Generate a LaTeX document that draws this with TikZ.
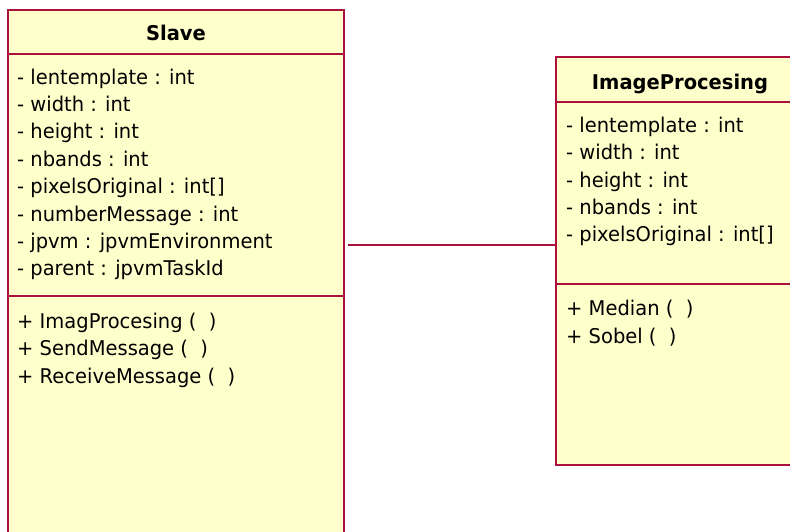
\documentclass[tikz,border=0pt]{standalone}
\usepackage{fontspec}
\setmainfont{DejaVu Sans}[FakeStretch=0.96]
\definecolor{umlfill}{RGB}{255,255,204}
\definecolor{umlline}{RGB}{172,16,60}
\begin{document}
\begin{tikzpicture}[x=1pt,y=-1pt,
  umlbox/.style={draw=umlline, fill=umlfill, line width=1.3pt, rectangle, inner sep=0pt},
  sepline/.style={draw=umlline, line width=1.3pt},
  member/.style={anchor=base west, inner sep=0pt, font=\fontsize{20.3}{24}\selectfont},
  umltitle/.style={anchor=base, inner sep=0pt, font=\fontsize{20.3}{24}\selectfont\bfseries},
  assoc/.style={draw=umlline, line width=1.3pt}]
\useasboundingbox (0,0) rectangle (790,531);
\clip (0,0) rectangle (790,531);
% Slave class
\node[umlbox, minimum width=336pt, minimum height=540pt] (slave) at (176,280) {};
\draw[sepline] (slave.west |- 0,54) -- (slave.east |- 0,54);
\draw[sepline] (slave.west |- 0,296) -- (slave.east |- 0,296);
\node[umltitle] (slavetitle) at (176,40.7) {Slave};
\node[member] (s1) at (17,84) {- lentemplate : int};
\node[member] (s2) at (17,111.4) {- width : int};
\node[member] (s3) at (17,138.8) {- height : int};
\node[member] (s4) at (17,166.2) {- nbands : int};
\node[member] (s5) at (17,193.6) {- pixelsOriginal : int[]};
\node[member] (s6) at (17,221) {- numberMessage : int};
\node[member] (s7) at (17,248.4) {- jpvm : jpvmEnvironment};
\node[member] (s8) at (17,275.8) {- parent : jpvmTaskId};
\node[member] (sm1) at (17,328) {+ ImagProcesing (\ \ )};
\node[member] (sm2) at (17,355.5) {+ SendMessage (\ \ )};
\node[member] (sm3) at (17,383) {+ ReceiveMessage (\ \ )};
% ImageProcesing class
\node[umlbox, minimum width=248pt, minimum height=408pt] (imgp) at (680,261) {};
\draw[sepline] (imgp.west |- 0,102) -- (imgp.east |- 0,102);
\draw[sepline] (imgp.west |- 0,284) -- (imgp.east |- 0,284);
\node[umltitle] (imgptitle) at (680,89.3) {ImageProcesing};
\node[member] (i1) at (566,132.3) {- lentemplate : int};
\node[member] (i2) at (566,159.7) {- width : int};
\node[member] (i3) at (566,187.1) {- height : int};
\node[member] (i4) at (566,214.5) {- nbands : int};
\node[member] (i5) at (566,241.9) {- pixelsOriginal : int[]};
\node[member] (im1) at (566,315.7) {+ Median (\ \ )};
\node[member] (im2) at (566,343) {+ Sobel (\ \ )};
% association
\draw[assoc, shorten <=3pt] (slave.east |- 0,245) -- (imgp.west |- 0,245);
\end{tikzpicture}
\end{document}
